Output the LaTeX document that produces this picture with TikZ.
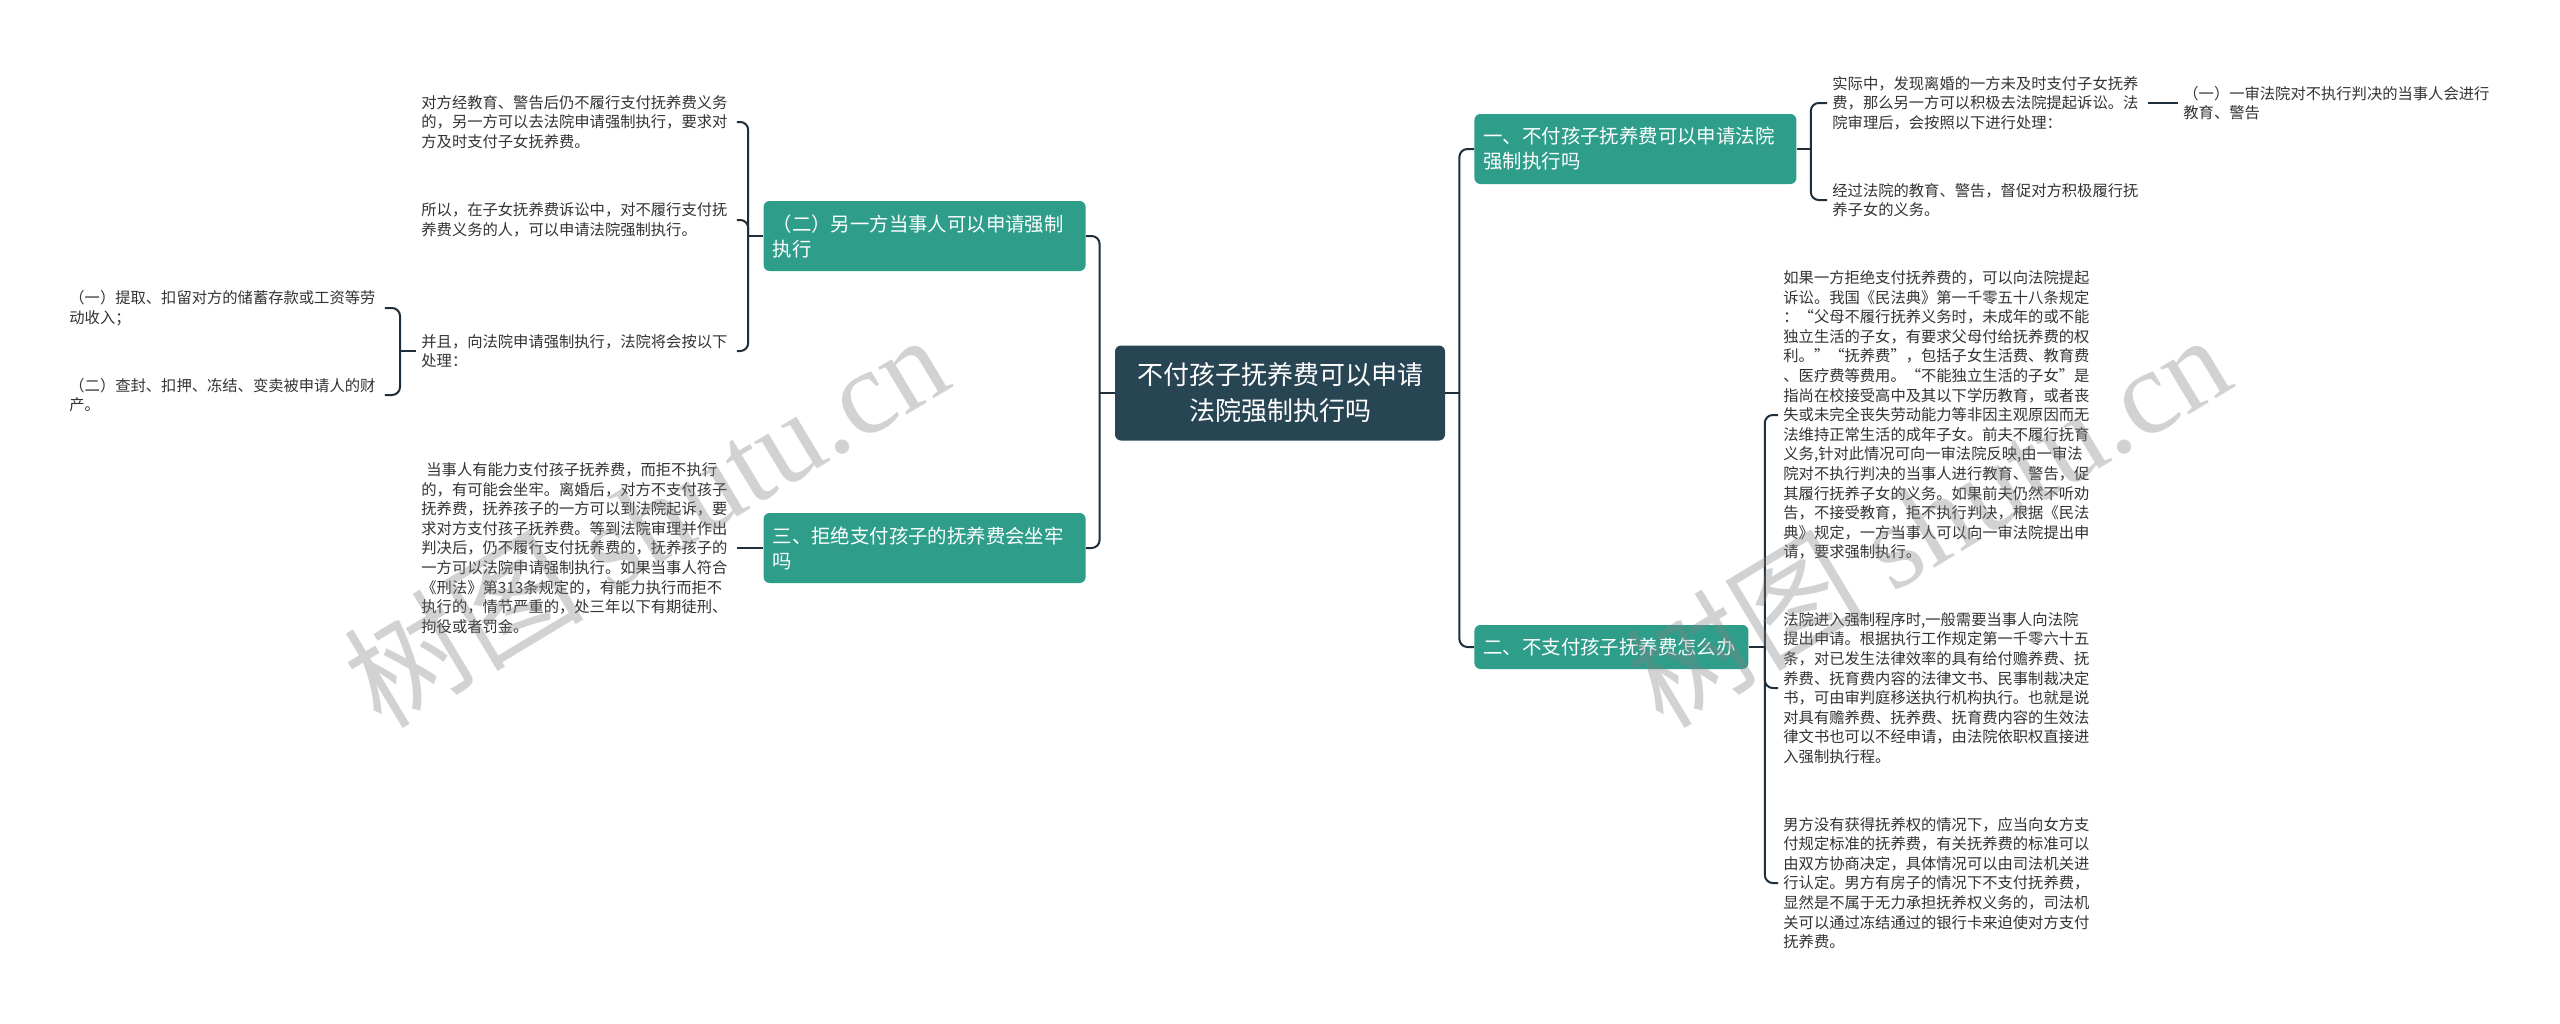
\documentclass[tikz,border=0pt]{standalone}
\usepackage{fontspec}
\setmainfont{Noto Sans CJK SC}
\newfontfamily\wmfont{Liberation Serif}
\usetikzlibrary{calc}
\definecolor{rootc}{HTML}{284553}
\definecolor{tealc}{HTML}{2E9E8B}
\definecolor{linec}{HTML}{1E2F3B}
\definecolor{txtc}{HTML}{333333}

\begin{document}
\begin{tikzpicture}[x=0.5pt,y=-0.5pt,
  txt/.style={anchor=west,font=\fontsize{7.65pt}{9.8pt}\selectfont,text=txtc,align=left,text width=155pt,inner xsep=2.5pt,inner ysep=0pt},
  br/.style={fill=tealc,text=white,rounded corners=3pt,font=\fontsize{9.7pt}{12.5pt}\selectfont,align=left,inner xsep=4.5pt,inner ysep=3pt},
  rt/.style={fill=rootc,text=white,rounded corners=3pt,font=\fontsize{13pt}{18pt}\selectfont,align=center,minimum width=165pt,minimum height=47.5pt},
  ln/.style={draw=linec,line width=1pt,rounded corners=4pt},
  wm/.style={text=gray,opacity=0.35,rotate=31,font=\fontsize{60pt}{60pt}\selectfont}]
\fill[white] (0,0) rectangle (2560,1023);
\useasboundingbox (0,0) rectangle (2560,1023);

% root and branches
\node[rt] (root) at (1280,393) {不付孩子抚养费可以申请\\法院强制执行吗};
\node[br,anchor=west,text width=152pt,minimum height=35pt] (b1) at (1474,149) {一、不付孩子抚养费可以申请法院\\强制执行吗};
\node[br,anchor=west,text width=128pt,minimum height=22pt] (b4) at (1474,647) {二、不支付孩子抚养费怎么办};
\node[br,anchor=east,text width=152pt,minimum height=35pt] (b2) at (1086,236) {（二）另一方当事人可以申请强制\\执行};
\node[br,anchor=east,text width=152pt,minimum height=35pt] (b3) at (1086,548) {三、拒绝支付孩子的抚养费会坐牢\\吗};

% left texts
\node[txt] (t1) at (416,122) {对方经教育、警告后仍不履行支付抚养费义务\\的，另一方可以去法院申请强制执行，要求对\\方及时支付子女抚养费。};
\node[txt] (t2) at (416,220) {所以，在子女抚养费诉讼中，对不履行支付抚\\养费义务的人，可以申请法院强制执行。};
\node[txt] (t3) at (416,351) {并且，向法院申请强制执行，法院将会按以下\\处理：};
\node[txt] (l1) at (64,308) {（一）提取、扣留对方的储蓄存款或工资等劳\\动收入；};
\node[txt] (l2) at (64,395) {（二）查封、扣押、冻结、变卖被申请人的财\\产。};
\node[txt] (t4) at (416,548) {\hspace*{2.5pt}当事人有能力支付孩子抚养费，而拒不执行\\的，有可能会坐牢。离婚后，对方不支付孩子\\抚养费，抚养孩子的一方可以到法院起诉，要\\求对方支付孩子抚养费。等到法院审理并作出\\判决后，仍不履行支付抚养费的，抚养孩子的\\一方可以法院申请强制执行。如果当事人符合\\《刑法》第313条规定的，有能力执行而拒不\\执行的，情节严重的，处三年以下有期徒刑、\\拘役或者罚金。};

% right texts
\node[txt] (r1) at (1827,103) {实际中，发现离婚的一方未及时支付子女抚养\\费，那么另一方可以积极去法院提起诉讼。法\\院审理后，会按照以下进行处理：};
\node[txt] (r2) at (1827,200) {经过法院的教育、警告，督促对方积极履行抚\\养子女的义务。};
\node[txt] (r3) at (2178,103) {（一）一审法院对不执行判决的当事人会进行\\教育、警告};
\node[txt] (r4) at (1778,415) {如果一方拒绝支付抚养费的，可以向法院提起\\诉讼。我国《民法典》第一千零五十八条规定\\：“父母不履行抚养义务时，未成年的或不能\\独立生活的子女，有要求父母付给抚养费的权\\利。”“抚养费”，包括子女生活费、教育费\\、医疗费等费用。“不能独立生活的子女”是\\指尚在校接受高中及其以下学历教育，或者丧\\失或未完全丧失劳动能力等非因主观原因而无\\法维持正常生活的成年子女。前夫不履行抚育\\义务,针对此情况可向一审法院反映,由一审法\\院对不执行判决的当事人进行教育、警告，促\\其履行抚养子女的义务。如果前夫仍然不听劝\\告，不接受教育，拒不执行判决，根据《民法\\典》规定，一方当事人可以向一审法院提出申\\请，要求强制执行。};
\node[txt] (r5) at (1778,688) {法院进入强制程序时,一般需要当事人向法院\\提出申请。根据执行工作规定第一千零六十五\\条，对已发生法律效率的具有给付赡养费、抚\\养费、抚育费内容的法律文书、民事制裁决定\\书，可由审判庭移送执行机构执行。也就是说\\对具有赡养费、抚养费、抚育费内容的生效法\\律文书也可以不经申请，由法院依职权直接进\\入强制执行程。};
\node[txt] (r6) at (1778,883) {男方没有获得抚养权的情况下，应当向女方支\\付规定标准的抚养费，有关抚养费的标准可以\\由双方协商决定，具体情况可以由司法机关进\\行认定。男方有房子的情况下不支付抚养费，\\显然是不属于无力承担抚养权义务的，司法机\\关可以通过冻结通过的银行卡来迫使对方支付\\抚养费。};

% connectors
\coordinate (jr) at ($(root.east)+(14,0)$);
\coordinate (jl) at ($(root.west)+(-15,0)$);
\coordinate (jb1) at ($(b1.east)+(14,0)$);
\coordinate (jb4) at ($(b4.east)+(16,0)$);
\coordinate (jb2) at ($(b2.west)+(-15,0)$);
\coordinate (jt3) at ($(t3.west)+(-16,0)$);
\draw[ln] (root.east) -- (jr); \draw[ln] (jr) |- (b1.west); \draw[ln] (jr) |- (b4.west);
\draw[ln] (root.west) -- (jl); \draw[ln] (jl) |- (b2.east); \draw[ln] (jl) |- (b3.east);
\draw[ln] (b1.east) -- (jb1); \draw[ln] (jb1) |- (r1.west); \draw[ln] (jb1) |- (r2.west);
\draw[ln] (r1.east) -- (r3.west);
\draw[ln] (b4.east) -- (jb4); \draw[ln] (jb4) |- (r4.west); \draw[ln] (jb4) |- (r5.west); \draw[ln] (jb4) |- (r6.west);
\draw[ln] (b2.west) -- (jb2); \draw[ln] (jb2) |- (t1.east); \draw[ln] (jb2) |- (t2.east); \draw[ln] (jb2) |- (t3.east);
\draw[ln] (t3.west) -- (jt3); \draw[ln] (jt3) |- (l1.east); \draw[ln] (jt3) |- (l2.east);
\draw[ln] (t4.east) -- (b3.west);

% watermarks
\node[wm] (wm1) at (645,519) {树图 {\wmfont shutu.cn}};
\node[wm] (wm2) at (1927,519) {树图 {\wmfont shutu.cn}};
\end{tikzpicture}
\end{document}
